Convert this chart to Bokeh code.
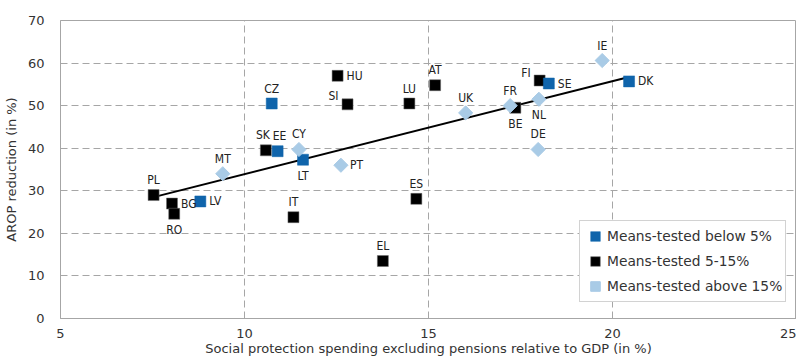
import numpy as np
from bokeh.plotting import figure
from bokeh.models import ColumnDataSource, Range1d, FixedTicker, Legend, LegendItem
from bokeh.core.properties import value
from bokeh.embed import file_html
from bokeh.resources import INLINE

# ---- data ----
countries = ["PL", "BG", "RO", "LV", "MT", "SK", "CZ", "EE", "IT", "CY", "LT", "PT", "HU", "SI",
             "EL", "LU", "ES", "AT", "UK", "FR", "BE", "DE", "NL", "FI", "SE", "IE", "DK"]
spending = [7.53, 8.03, 8.09, 8.80, 9.41, 10.58, 10.74, 10.90, 11.33, 11.48, 11.59, 12.62, 12.53, 12.80,
            13.76, 14.48, 14.67, 15.18, 16.01, 17.22, 17.36, 17.98, 18.00, 18.02, 18.27, 19.72, 20.45]
arop_reduction = [29.0, 27.0, 24.6, 27.5, 34.0, 39.5, 50.5, 39.3, 23.8, 39.7, 37.3, 36.0, 57.0, 50.3,
                  13.5, 50.5, 28.1, 54.8, 48.3, 50.0, 49.5, 39.7, 51.5, 55.9, 55.2, 60.6, 55.7]
group = ["mid", "mid", "mid", "low", "high", "mid", "low", "low", "mid", "high", "low", "high", "mid", "mid",
         "mid", "mid", "mid", "mid", "high", "high", "mid", "high", "high", "mid", "low", "high", "low"]
group_names = {"low": "Means-tested below 5%", "mid": "Means-tested 5-15%", "high": "Means-tested above 15%"}
x_ticks = [5, 10, 15, 20, 25]
y_ticks = [0, 10, 20, 30, 40, 50, 60, 70]

# ---- label placement (style) ----
placement = {"PL": "above", "BG": "right", "RO": "below", "LV": "right", "MT": "above", "SK": "above_l",
             "CZ": "above", "EE": "above_r", "IT": "above", "CY": "above", "LT": "below", "PT": "right",
             "HU": "right", "SI": "left_above", "EL": "above", "LU": "above", "ES": "above", "AT": "above",
             "UK": "above", "FR": "above", "BE": "below", "DE": "above", "NL": "below", "FI": "left_above",
             "SE": "right", "IE": "above", "DK": "right"}
place_style = {"above": (0, -15, "center"), "above_l": (-3, -15, "center"), "above_r": (2, -15, "center"),
               "below": (0, 16, "center"), "right": (9, 0, "left"), "left_above": (-9, -8, "right")}

colors = {"low": "#0f64ab", "mid": "#000000", "high": "#a9cbe6"}

GRAY = "#a6a6a6"
TXT = "#333333"
FONT = "DejaVu Sans"
NARROW = "'Liberation Sans Narrow', 'DejaVu Sans Condensed', sans-serif"

p = figure(width=785, height=356, frame_width=736, frame_height=298,
           output_backend="svg", toolbar_location=None,
           x_range=Range1d(5, 25), y_range=Range1d(0, 70),
           min_border_left=49, min_border_right=0, min_border_top=20, min_border_bottom=34)
p.background_fill_color = "white"
p.border_fill_color = "white"
p.outline_line_color = GRAY
p.outline_line_width = 1

for ax, ticks in ((p.xaxis, x_ticks), (p.yaxis, y_ticks)):
    ax.ticker = FixedTicker(ticks=ticks)
    ax.axis_line_color = GRAY
    ax.major_tick_line_color = None
    ax.minor_tick_line_color = None
    ax.major_label_text_font = FONT
    ax.major_label_text_font_size = "13px"
    ax.major_label_text_color = TXT
    ax.axis_label_text_font = FONT
    ax.axis_label_text_font_size = "13px"
    ax.axis_label_text_font_style = "normal"
    ax.axis_label_text_color = TXT
p.xaxis.major_label_standoff = 4
p.yaxis.major_label_standoff = 10
p.yaxis.axis_label = "AROP reduction (in %)"
p.yaxis.axis_label_standoff = 6
p.xaxis.axis_label = "Social protection spending excluding pensions relative to GDP (in %)"
p.xaxis.axis_label_standoff = 0

p.xgrid.ticker = FixedTicker(ticks=x_ticks)
p.ygrid.ticker = FixedTicker(ticks=y_ticks)
for g in (p.xgrid, p.ygrid):
    g.grid_line_color = GRAY
    g.grid_line_dash = "7 4"
    g.grid_line_width = 1

# trend line (least squares)
slope, intercept = np.polyfit(spending, arop_reduction, 1)
xs = np.array([min(spending), max(spending)])
p.line(xs, slope * xs + intercept, line_color="black", line_width=2)

# markers
renderers = {}
for gkey in ["mid", "low", "high"]:
    idx = [i for i, g in enumerate(group) if g == gkey]
    src = ColumnDataSource(dict(x=[spending[i] for i in idx], y=[arop_reduction[i] for i in idx]))
    if gkey == "high":
        r = p.scatter("x", "y", source=src, marker="square", size=10, angle=np.pi / 4,
                      fill_color=colors[gkey], line_color=colors[gkey])
    else:
        r = p.scatter("x", "y", source=src, marker="square", size=11,
                      fill_color=colors[gkey], line_color="#6d6d6d" if gkey == "mid" else colors[gkey],
                      line_width=0.5)
    renderers[gkey] = r

# country labels
lab = dict(x=spending, y=arop_reduction, t=countries,
           dx=[place_style[placement[c]][0] for c in countries],
           dy=[place_style[placement[c]][1] for c in countries],
           al=[place_style[placement[c]][2] for c in countries])
p.text("x", "y", text="t", source=ColumnDataSource(lab), x_offset="dx", y_offset="dy",
       text_align="al", text_baseline="middle", text_font=value(NARROW),
       text_font_size="12px", text_color="#222222")

legend = Legend(items=[LegendItem(label=group_names[k], renderers=[renderers[k]]) for k in ["low", "mid", "high"]],
                location=(519, 16), padding=3, spacing=1, glyph_width=24, glyph_height=24,
                label_standoff=0, label_height=24, label_text_font=FONT, label_text_font_size="13.8px",
                label_text_color=TXT, border_line_color=GRAY, background_fill_alpha=1,
                margin=0)
p.add_layout(legend, "center")

open("out.html", "w").write(file_html(p, INLINE))
